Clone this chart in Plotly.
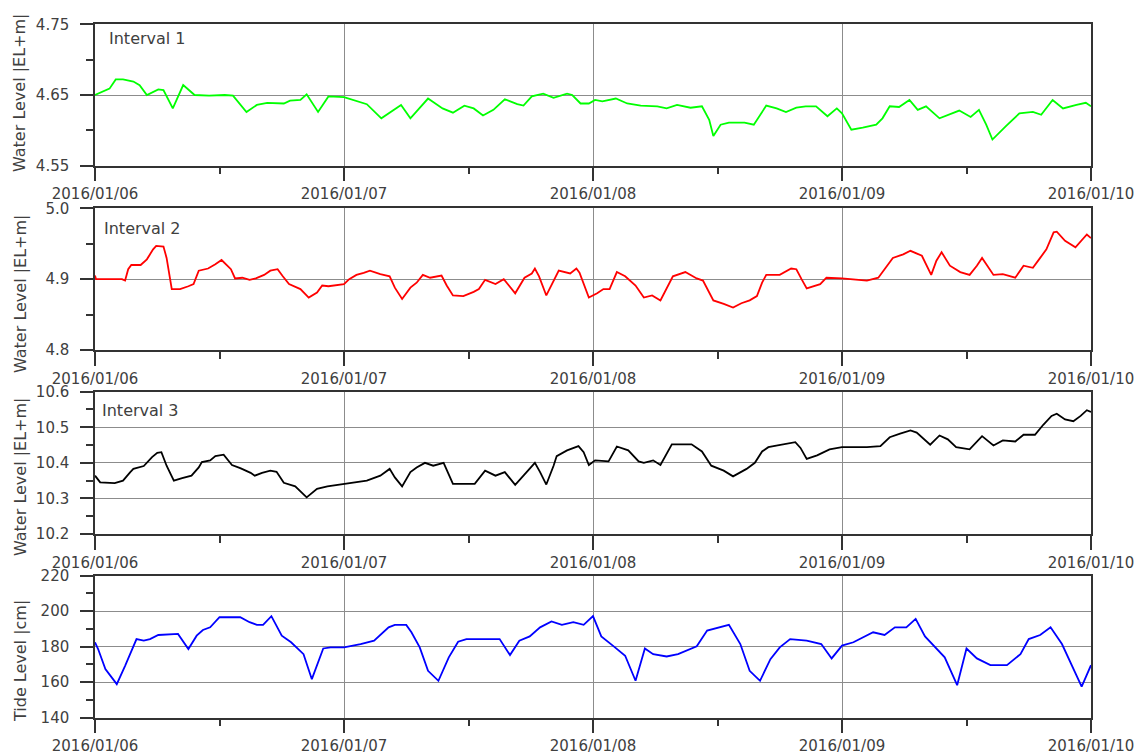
import pandas as pd
import plotly.graph_objects as go
from plotly.subplots import make_subplots

START = pd.Timestamp("2016-01-06 00:00")
END = pd.Timestamp("2016-01-10 00:00")

# Interval 1 water level (hours after 2016/01/06 00:00, EL+m)
int1_hours = [0, 1.4, 2.0, 2.7, 3.7, 4.3, 5.0, 6.1, 6.6, 7.5, 8.5, 9.6, 11.0, 12.5, 13.3,
              14.6, 15.6, 16.6, 18.2, 18.8, 19.8, 20.4, 21.5, 22.5, 24.0, 24.9, 26.2, 27.6,
              29.5, 30.4, 32.1, 33.5, 34.5, 35.6, 36.5, 37.4, 38.4, 39.5, 40.7, 41.3, 42.1,
              43.2, 44.2, 45.5, 46.0, 46.8, 47.6, 48.2, 48.9, 50.2, 51.3, 52.6, 54.2, 55.1,
              56.1, 57.4, 58.5, 59.2, 59.6, 60.3, 61.1, 62.6, 63.5, 64.7, 65.7, 66.6, 67.6,
              68.5, 69.5, 70.6, 71.5, 72.0, 72.9, 74.0, 75.3, 75.9, 76.6, 77.5, 78.5, 79.3,
              80.1, 81.4, 82.6, 83.3, 84.4, 85.2, 85.9, 86.5, 87.8, 89.1, 90.4, 91.2, 92.3,
              93.3, 94.6, 95.5, 96.0]
int1_level = [4.650, 4.659, 4.672, 4.672, 4.669, 4.664, 4.650, 4.658, 4.657, 4.631, 4.664,
              4.650, 4.649, 4.650, 4.649, 4.626, 4.636, 4.639, 4.638, 4.642, 4.643, 4.651,
              4.626, 4.648, 4.647, 4.643, 4.637, 4.617, 4.636, 4.617, 4.645, 4.631, 4.625,
              4.635, 4.631, 4.621, 4.629, 4.644, 4.637, 4.635, 4.648, 4.652, 4.646, 4.652,
              4.650, 4.638, 4.638, 4.643, 4.641, 4.645, 4.638, 4.635, 4.634, 4.631, 4.636,
              4.632, 4.634, 4.615, 4.592, 4.608, 4.611, 4.611, 4.608, 4.635, 4.631, 4.626,
              4.632, 4.634, 4.634, 4.620, 4.631, 4.624, 4.601, 4.604, 4.608, 4.617, 4.634,
              4.633, 4.643, 4.629, 4.634, 4.617, 4.624, 4.628, 4.619, 4.629, 4.608, 4.587,
              4.606, 4.624, 4.626, 4.622, 4.643, 4.631, 4.636, 4.639, 4.634]

# Interval 2 water level
int2_hours = [0, 0.1, 2.6, 2.9, 3.2, 3.5, 4.4, 5.0, 5.6, 5.9, 6.6, 6.9, 7.4, 8.2, 9.0, 9.5,
              10.0, 10.6, 10.9, 11.6, 12.2, 13.1, 13.5, 14.2, 14.9, 15.5, 16.3, 16.9, 17.6,
              18.1, 18.7, 19.8, 20.6, 21.4, 21.9, 22.5, 24.0, 24.5, 25.2, 25.9, 26.5, 27.5,
              28.4, 28.9, 29.6, 30.4, 31.0, 31.6, 32.3, 33.4, 33.9, 34.5, 35.5, 36.5, 37.0,
              37.6, 38.6, 39.4, 40.5, 41.4, 42.1, 42.4, 42.8, 43.5, 44.2, 44.7, 45.8, 46.4,
              46.7, 47.1, 47.6, 48.4, 49.0, 49.6, 50.3, 51.1, 52.1, 52.9, 53.7, 54.5, 55.3,
              55.7, 56.9, 58.0, 58.6, 59.6, 60.6, 61.5, 62.3, 63.1, 63.8, 64.3, 64.7, 66.0,
              67.1, 67.6, 68.1, 68.6, 69.9, 70.5, 72.0, 73.1, 74.4, 75.5, 76.3, 76.9, 77.9,
              78.6, 79.7, 80.3, 80.6, 81.1, 81.6, 82.4, 83.4, 84.3, 85.0, 85.5, 86.1, 86.6,
              87.5, 88.7, 89.5, 90.4, 91.1, 91.7, 92.4, 92.7, 93.5, 94.5, 95.6, 96.0]
int2_level = [4.905, 4.900, 4.900, 4.898, 4.914, 4.920, 4.920, 4.928, 4.942, 4.947, 4.946,
              4.930, 4.886, 4.886, 4.890, 4.893, 4.912, 4.914, 4.915, 4.921, 4.927, 4.914,
              4.901, 4.902, 4.899, 4.901, 4.906, 4.912, 4.914, 4.904, 4.893, 4.886, 4.874,
              4.881, 4.891, 4.890, 4.893, 4.900, 4.906, 4.909, 4.912, 4.907, 4.904, 4.888,
              4.872, 4.888, 4.895, 4.906, 4.902, 4.905, 4.891, 4.877, 4.876, 4.882, 4.886,
              4.899, 4.893, 4.900, 4.880, 4.902, 4.908, 4.915, 4.904, 4.877, 4.898, 4.912,
              4.908, 4.915, 4.909, 4.893, 4.874, 4.880, 4.886, 4.886, 4.910, 4.904, 4.891,
              4.874, 4.877, 4.870, 4.893, 4.904, 4.910, 4.901, 4.898, 4.870, 4.865, 4.860,
              4.866, 4.870, 4.876, 4.895, 4.906, 4.906, 4.915, 4.914, 4.900, 4.887, 4.893,
              4.902, 4.901, 4.900, 4.898, 4.902, 4.919, 4.930, 4.935, 4.940, 4.933, 4.914,
              4.906, 4.926, 4.938, 4.919, 4.910, 4.906, 4.919, 4.930, 4.916, 4.906, 4.907,
              4.902, 4.919, 4.916, 4.930, 4.942, 4.966, 4.967, 4.954, 4.945, 4.963, 4.958]

# Interval 3 water level
int3_hours = [0, 0.5, 1.9, 2.7, 3.4, 3.7, 4.7, 5.5, 6.0, 6.4, 6.9, 7.6, 8.4, 9.3, 10.0, 10.3,
              11.1, 11.6, 12.4, 13.2, 14.0, 15.0, 15.4, 16.1, 16.9, 17.5, 18.2, 19.3, 20.4,
              21.4, 22.4, 24.0, 25.0, 26.2, 27.5, 28.4, 28.9, 29.6, 30.4, 31.0, 31.8, 32.6,
              33.6, 34.5, 35.5, 36.6, 37.6, 38.6, 39.5, 40.5, 41.6, 42.4, 42.9, 43.5, 44.2,
              44.5, 45.5, 46.6, 47.1, 47.6, 48.2, 49.5, 50.3, 51.4, 52.4, 52.9, 53.8, 54.5,
              55.6, 57.5, 58.5, 59.4, 60.6, 61.5, 62.8, 63.6, 64.3, 64.9, 65.4, 66.7, 67.5,
              68.0, 68.6, 69.6, 70.8, 72.0, 73.1, 74.4, 75.7, 76.6, 77.6, 78.6, 79.2, 80.5,
              81.4, 82.2, 83.0, 84.3, 85.5, 86.6, 87.5, 88.7, 89.5, 90.6, 91.4, 92.2, 92.7,
              93.5, 94.3, 95.0, 95.6, 96.0]
int3_level = [10.364, 10.345, 10.343, 10.350, 10.374, 10.383, 10.391, 10.416, 10.428, 10.430,
              10.392, 10.350, 10.357, 10.364, 10.387, 10.402, 10.407, 10.419, 10.423, 10.394,
              10.385, 10.372, 10.364, 10.372, 10.378, 10.375, 10.344, 10.334, 10.303, 10.327,
              10.334, 10.341, 10.345, 10.350, 10.364, 10.383, 10.359, 10.334, 10.374, 10.387,
              10.400, 10.392, 10.400, 10.341, 10.341, 10.341, 10.378, 10.364, 10.374, 10.338,
              10.374, 10.400, 10.374, 10.339, 10.392, 10.419, 10.435, 10.447, 10.430, 10.394,
              10.407, 10.404, 10.446, 10.435, 10.404, 10.400, 10.407, 10.394, 10.452, 10.452,
              10.432, 10.392, 10.378, 10.362, 10.383, 10.400, 10.432, 10.444, 10.447, 10.454,
              10.458, 10.442, 10.411, 10.421, 10.438, 10.444, 10.444, 10.444, 10.447, 10.472,
              10.482, 10.491, 10.485, 10.451, 10.477, 10.466, 10.444, 10.438, 10.475, 10.449,
              10.463, 10.460, 10.479, 10.479, 10.507, 10.532, 10.538, 10.522, 10.517, 10.532,
              10.548, 10.543]

# Tide level (cm)
tide_hours = [0, 0.3, 1.0, 2.1, 2.9, 4.0, 4.7, 5.3, 6.1, 8.0, 9.0, 9.8, 10.4, 11.1, 12.0, 14.0,
              14.9, 15.6, 16.2, 17.0, 18.0, 18.9, 20.1, 20.9, 22.0, 22.7, 24.0, 25.0, 25.6,
              26.9, 28.3, 28.9, 30.0, 30.5, 31.3, 32.1, 33.1, 34.1, 35.0, 35.8, 39.0, 40.0,
              40.9, 41.9, 42.9, 44.0, 45.0, 46.1, 47.1, 48.0, 48.8, 50.0, 51.1, 52.1, 53.0,
              53.8, 55.1, 56.2, 58.0, 59.0, 60.2, 61.1, 62.2, 63.1, 64.1, 65.1, 66.0, 67.0,
              68.6, 70.0, 71.0, 72.0, 73.1, 75.0, 76.1, 77.1, 78.2, 79.1, 80.0, 81.9, 83.1,
              84.0, 85.0, 86.3, 87.9, 89.2, 90.0, 91.1, 92.1, 93.2, 95.1, 96.0]
tide_level = [182.5, 178.7, 167.4, 158.9, 169.2, 184.3, 183.4, 184.3, 186.6, 187.2, 178.7,
              186.2, 189.4, 190.9, 196.6, 196.6, 193.8, 192.3, 192.3, 197.2, 186.2, 182.5,
              175.8, 161.7, 179.0, 179.6, 179.6, 180.6, 181.5, 183.4, 190.9, 192.3, 192.3,
              188.1, 179.6, 166.4, 160.8, 174.0, 182.8, 184.3, 184.3, 175.3, 183.4, 185.8,
              190.9, 194.2, 192.3, 193.8, 192.3, 197.2, 185.8, 180.2, 174.9, 160.8, 179.0,
              175.8, 174.5, 175.8, 180.2, 189.1, 190.9, 192.3, 181.5, 166.4, 160.8, 173.0,
              179.6, 184.3, 183.4, 181.5, 173.4, 180.6, 182.5, 188.1, 186.6, 190.9, 190.9,
              195.7, 185.8, 174.0, 158.3, 179.0, 173.4, 169.6, 169.6, 175.8, 184.3, 186.6,
              190.9, 181.5, 157.5, 169.6]

panel_names = ["Interval 1", "Interval 2", "Interval 3", None]
axis_titles = ["Water Level |EL+m|", "Water Level |EL+m|", "Water Level |EL+m|", "Tide Level |cm|"]
line_colors = ["#00ff00", "#ff0000", "#000000", "#0000ff"]
y_ranges = [[4.55, 4.75], [4.8, 5.0], [10.2, 10.6], [140, 220]]
y_dticks = [0.1, 0.1, 0.1, 20]
y_formats = [".2f", ".1f", ".1f", "d"]

series = [(int1_hours, int1_level), (int2_hours, int2_level),
          (int3_hours, int3_level), (tide_hours, tide_level)]

W, H = 1136, 754
M_L, M_R, M_T, M_B = 95, 45, 24, 36
PLOT_H = H - M_T - M_B
# panel top/bottom in page pixels
panel_px = [(24.3, 165.7), (208.3, 350.0), (391.7, 534.0), (575.7, 717.7)]


def to_time(hours):
    return START + pd.to_timedelta(hours, unit="h")


def paper_y(px):
    return (H - M_B - px) / PLOT_H


def paper_x(px):
    return (px - M_L) / (W - M_L - M_R)


FONT = "DejaVu Sans"
TEXT = "#404040"
AXIS = "#333333"
GRID = "#8c8c8c"

fig = make_subplots(rows=4, cols=1)

for i, (hrs, vals) in enumerate(series):
    fig.add_trace(
        go.Scatter(x=to_time(hrs), y=vals, mode="lines",
                   line=dict(color=line_colors[i], width=1.8),
                   showlegend=False, hoverinfo="skip"),
        row=i + 1, col=1)

for i in range(4):
    top, bot = panel_px[i]
    fig.update_xaxes(
        row=i + 1, col=1, automargin=False,
        type="date", range=[START, END], domain=[0, 1],
        tick0=START, dtick=86400000, tickformat="%Y/%m/%d",
        ticks="outside", ticklen=14, tickwidth=1.5, tickcolor=AXIS,
        tickfont=dict(family=FONT, size=15, color=TEXT),
        showline=True, mirror=True, linecolor=AXIS, linewidth=1.5,
        showgrid=True, gridcolor=GRID, gridwidth=1, zeroline=False,
        minor=dict(dtick=43200000, tick0=START, ticks="outside", ticklen=7,
                   tickwidth=1.5, tickcolor=AXIS, showgrid=False),
    )
    lo, hi = y_ranges[i]
    fig.update_yaxes(
        row=i + 1, col=1, automargin=False,
        range=[lo, hi], domain=[paper_y(bot), min(1.0, paper_y(top))],
        tick0=lo, dtick=y_dticks[i], tickformat=y_formats[i],
        ticks="outside", ticklen=13, tickwidth=1.5, tickcolor=AXIS,
        ticklabelstandoff=8,
        tickfont=dict(family=FONT, size=15, color=TEXT),
        showline=True, mirror=True, linecolor=AXIS, linewidth=1.5,
        showgrid=True, gridcolor=GRID, gridwidth=1, zeroline=False,
        minor=dict(dtick=y_dticks[i] / 2, ticks="outside", ticklen=7,
                   tickwidth=1.5, tickcolor=AXIS, showgrid=False),
    )

# vertical axis titles
title_centers = [93, 294, 477, 661]
for i, t in enumerate(axis_titles):
    fig.add_annotation(
        text=t, xref="paper", yref="paper",
        x=paper_x(20), y=paper_y(title_centers[i]),
        xanchor="center", yanchor="middle", textangle=-90, showarrow=False,
        font=dict(family=FONT, size=16, color=TEXT),
    )

# panel labels
label_pos = [(107, 38), (102, 228), (100, 410)]
for i, (lx, ly) in enumerate(label_pos):
    fig.add_annotation(
        text=panel_names[i], xref="paper", yref="paper",
        x=paper_x(lx), y=paper_y(ly),
        xanchor="left", yanchor="middle", showarrow=False,
        font=dict(family=FONT, size=16, color=TEXT),
    )

fig.update_layout(
    width=W, height=H,
    margin=dict(l=M_L, r=M_R, t=M_T, b=M_B, autoexpand=False),
    paper_bgcolor="white", plot_bgcolor="white",
    font=dict(family=FONT, color=TEXT),
)

fig.write_html("out.html")
